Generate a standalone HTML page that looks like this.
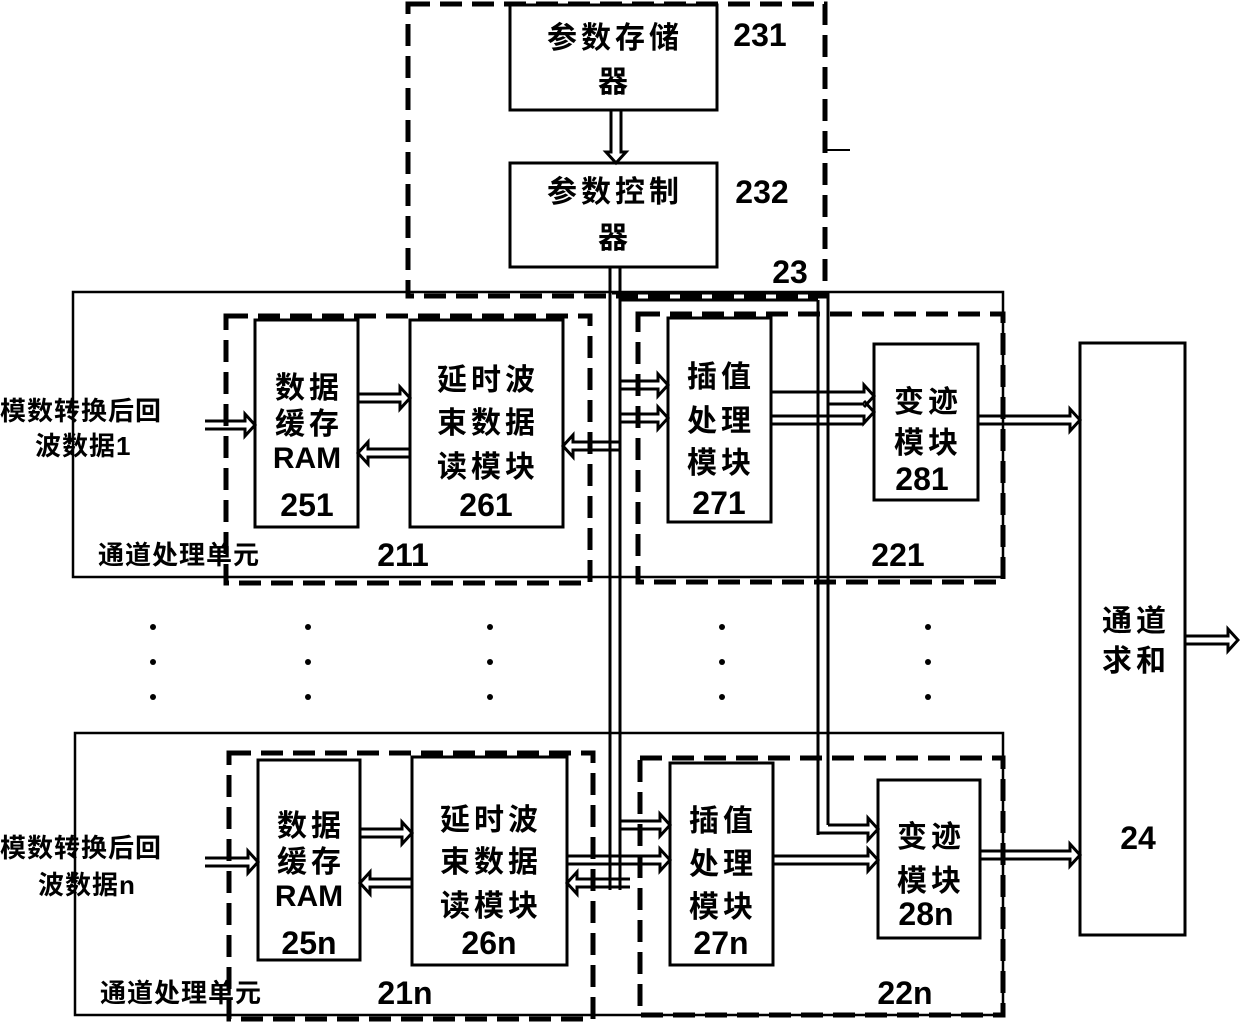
<!DOCTYPE html>
<html><head><meta charset="utf-8"><style>
html,body{margin:0;padding:0;background:#fff}
svg{display:block}
text{font-family:"Liberation Sans","Noto Sans CJK SC",sans-serif;font-weight:bold;fill:#000}
.c{font-size:30px;text-anchor:middle;letter-spacing:4px}
.n{font-size:32px;text-anchor:middle;font-family:"Liberation Sans Narrow","Liberation Sans",sans-serif}
.s{font-size:26px;letter-spacing:1px}
</style></head><body>
<svg width="1240" height="1022" viewBox="0 0 1240 1022" xmlns="http://www.w3.org/2000/svg">
<g fill="none" stroke="#000">
<rect x="73" y="292" width="930" height="285" stroke-width="2.5"/>
<rect x="75" y="733" width="928" height="282" stroke-width="2.5"/>
<g stroke-width="5" stroke-dasharray="22,10">
<rect x="408" y="4" width="417" height="292"/>
<rect x="226" y="316" width="364" height="267"/>
<rect x="638" y="314" width="365" height="268"/>
<rect x="229" y="753" width="364" height="266"/>
<rect x="640" y="758" width="363" height="257"/>
</g>
<g stroke-width="3">
<rect x="510" y="5" width="207" height="105"/>
<rect x="510" y="163" width="207" height="104"/>
<rect x="255" y="320" width="103" height="207"/>
<rect x="410" y="320" width="153" height="207"/>
<rect x="668" y="318" width="103" height="204"/>
<rect x="874" y="344" width="104" height="156"/>
<rect x="1080" y="343" width="105" height="592"/>
<rect x="258" y="760" width="102" height="200"/>
<rect x="412" y="757" width="155" height="208"/>
<rect x="670" y="763" width="103" height="202"/>
<rect x="878" y="780" width="102" height="158"/>
</g>
<line x1="825" y1="150" x2="850" y2="150" stroke-width="2"/>
<g stroke-width="3">
<line x1="610" y1="267" x2="610" y2="890"/>
<line x1="620" y1="267" x2="620" y2="890"/>
<line x1="612" y1="293" x2="828" y2="293"/>
<line x1="620" y1="300" x2="818" y2="300"/>
<line x1="828" y1="293" x2="828" y2="825"/>
<line x1="818" y1="300" x2="818" y2="835"/>
<path d="M611 110 V152 H606 L616 163 L626 152 H621 V110"/>
<path d="M205 421 H245 V414 L255 425 L245 436 V429 H205"/>
<path d="M358 394 H400 V387 L410 398 L400 409 V402 H358"/>
<path d="M410 449 H368 V442 L358 453 L368 464 V457 H410"/>
<path d="M620 381 H658 V374 L668 385 L658 396 V389 H620"/>
<path d="M620 414 H658 V407 L668 418 L658 429 V422 H620"/>
<path d="M620 442 H573 V435 L563 446 L573 457 V450 H620"/>
<path d="M771 392 H864 V385 L874 396 L864 407"/>
<path d="M828 404 H864"/>
<path d="M771 416 H864 V423 L874 412 L864 401 M771 424 H864"/>
<path d="M978 416 H1070 V409 L1080 420 L1070 431 V424 H978"/>
<path d="M1185 636 H1228 V629 L1238 640 L1228 651 V644 H1185"/>
<path d="M205 858 H248 V851 L258 862 L248 873 V866 H205"/>
<path d="M360 829 H402 V822 L412 833 L402 844 V837 H360"/>
<path d="M412 879 H370 V872 L360 883 L370 894 V887 H412"/>
<path d="M620 821 H660 V814 L670 825 L660 836 V829 H620"/>
<path d="M567 856 H660 V849 L670 860 L660 871 V864 H567"/>
<path d="M630 879 H577 V872 L567 883 L577 894 V887 H630"/>
<path d="M828 825 H868 V818 L878 829 L868 840 V833 H818"/>
<path d="M773 856 H868 V849 L878 860 L868 871 V864 H773"/>
<path d="M980 851 H1070 V844 L1080 855 L1070 866 V859 H980"/>
</g>
</g>
<g fill="#000">
<circle cx="153" cy="627" r="3"/><circle cx="153" cy="662" r="3"/><circle cx="153" cy="697" r="3"/>
<circle cx="308" cy="627" r="3"/><circle cx="308" cy="662" r="3"/><circle cx="308" cy="697" r="3"/>
<circle cx="490" cy="627" r="3"/><circle cx="490" cy="662" r="3"/><circle cx="490" cy="697" r="3"/>
<circle cx="722" cy="627" r="3"/><circle cx="722" cy="662" r="3"/><circle cx="722" cy="697" r="3"/>
<circle cx="928" cy="627" r="3"/><circle cx="928" cy="662" r="3"/><circle cx="928" cy="697" r="3"/>
</g>
<text class="c" x="615" y="48">参数存储</text>
<text class="c" x="615" y="92">器</text>
<text class="n" x="760" y="46">231</text>
<text class="c" x="615" y="202">参数控制</text>
<text class="c" x="615" y="248">器</text>
<text class="n" x="762" y="203">232</text>
<text class="n" x="790" y="283">23</text>

<text class="c" x="309" y="398">数据</text>
<text class="c" x="309" y="434">缓存</text>
<text class="c" x="307" y="468" style="letter-spacing:0">RAM</text>
<text class="n" x="307" y="516">251</text>
<text class="c" x="488" y="390">延时波</text>
<text class="c" x="488" y="433">束数据</text>
<text class="c" x="488" y="477">读模块</text>
<text class="n" x="486" y="516">261</text>
<text class="c" x="721" y="387">插值</text>
<text class="c" x="721" y="431">处理</text>
<text class="c" x="721" y="473">模块</text>
<text class="n" x="719" y="514">271</text>
<text class="c" x="928" y="412">变迹</text>
<text class="c" x="928" y="453">模块</text>
<text class="n" x="922" y="490">281</text>

<text class="s" x="0" y="420">模数转换后回</text>
<text class="s" x="35" y="455">波数据1</text>
<text class="s" x="98" y="564">通道处理单元</text>
<text class="n" x="403" y="566">211</text>
<text class="n" x="898" y="566">221</text>

<text class="c" x="1136" y="631">通道</text>
<text class="c" x="1136" y="671">求和</text>
<text class="n" x="1138" y="849">24</text>

<text class="c" x="311" y="836">数据</text>
<text class="c" x="311" y="872">缓存</text>
<text class="c" x="309" y="906" style="letter-spacing:0">RAM</text>
<text class="n" x="309" y="954">25n</text>
<text class="c" x="491" y="830">延时波</text>
<text class="c" x="491" y="872">束数据</text>
<text class="c" x="491" y="916">读模块</text>
<text class="n" x="489" y="954">26n</text>
<text class="c" x="723" y="831">插值</text>
<text class="c" x="723" y="874">处理</text>
<text class="c" x="723" y="917">模块</text>
<text class="n" x="721" y="954">27n</text>
<text class="c" x="931" y="847">变迹</text>
<text class="c" x="931" y="891">模块</text>
<text class="n" x="926" y="925">28n</text>

<text class="s" x="0" y="857">模数转换后回</text>
<text class="s" x="38" y="894">波数据n</text>
<text class="s" x="100" y="1002">通道处理单元</text>
<text class="n" x="405" y="1004">21n</text>
<text class="n" x="905" y="1004">22n</text>
</svg>
</body></html>
